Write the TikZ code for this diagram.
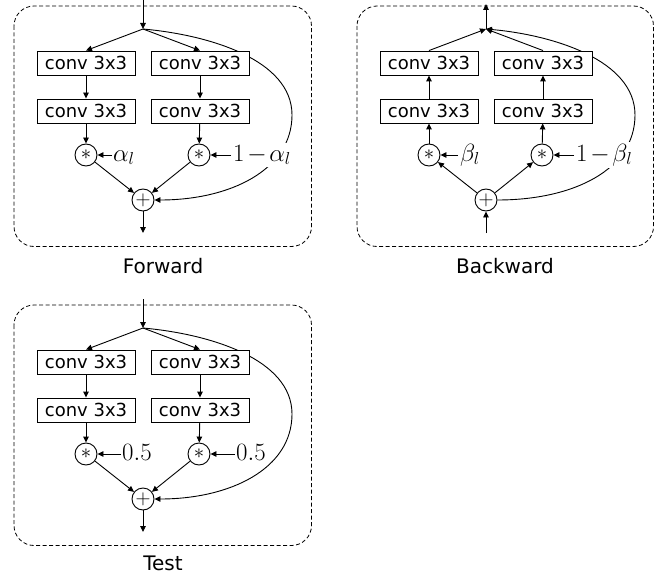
\documentclass[tikz,border=0pt]{standalone}
\usepackage{fontspec}
\setsansfont{DejaVu Sans}
\usetikzlibrary{arrows.meta,backgrounds}
\tikzset{
  convbox/.style={draw, fill=white, line width=0.9pt, minimum width=98pt, minimum height=24pt, inner sep=0pt, font=\sffamily\fontsize{18}{18}\selectfont},
  opc/.style={draw, circle, fill=white, line width=0.9pt, minimum size=22pt, inner sep=0pt, font=\fontsize{20}{20}\selectfont},
  arr/.style={line width=0.9pt, -{Triangle[length=6pt,width=5.5pt]}},
  panel/.style={draw, line width=0.8pt, dash pattern=on 4pt off 2.5pt, rounded corners=20pt},
  lab/.style={anchor=base west, inner sep=2pt, fill=white, font=\fontsize{24}{24}\selectfont},
  ttl/.style={anchor=base, inner sep=0pt, font=\sffamily\fontsize{20}{20}\selectfont}
}
\newcommand{\omn}{\mskip2mu{-}\mskip2mu}
\begin{document}
\begin{tikzpicture}[x=1pt,y=-1pt]
\useasboundingbox (0,0) rectangle (664,575);

% ================= Forward =================
\draw[panel] (14,6) rectangle (311.5,246.5);
\coordinate (fin) at (143,0);
\coordinate (fs) at (143,29);
\node[convbox] (f1) at (86,63) {conv 3x3};
\node[convbox] (f2) at (200,63) {conv 3x3};
\node[convbox] (f3) at (86,111) {conv 3x3};
\node[convbox] (f4) at (200,111) {conv 3x3};
\node[opc] (fm1) at (86,155) {$*$};
\node[opc] (fm2) at (199,155) {$*$};
\node[opc] (fp) at (143,200) {$+$};
\coordinate (fout) at (143,233);
\node[lab, inner sep=1pt] (fa1) at (112,161) {$\alpha_l$};
\node[lab] (fa2) at (231,161) {$1\omn\alpha_l$};
\begin{pgfonlayer}{background}
\draw[arr] (fs) .. controls (210,35) and (292,60) .. (292,115)
               .. controls (292,170) and (230,200) .. (fp.east);
\end{pgfonlayer}
\draw[arr] (fin) -- (fs);
\draw[arr] (fs) -- (f1.north);
\draw[arr] (fs) -- (f2.north);
\draw[arr] (f1) -- (f3);
\draw[arr] (f2) -- (f4);
\draw[arr] (f3) -- (fm1);
\draw[arr] (f4) -- (fm2);
\draw[arr] (fm1) -- (fp);
\draw[arr] (fm2) -- (fp);
\draw[arr] (fp) -- (fout);
\draw[arr] (fa1.west |- fm1) -- (fm1);
\draw[arr] (fa2.west |- fm2) -- (fm2);
\node[ttl] (ft) at (163,273) {Forward};

% ================= Backward =================
\draw[panel] (357,6) rectangle (653.5,246.5);
\coordinate (bout) at (486,4);
\coordinate (bs) at (486,29);
\node[convbox] (b1) at (429,63) {conv 3x3};
\node[convbox] (b2) at (543,63) {conv 3x3};
\node[convbox] (b3) at (429,111) {conv 3x3};
\node[convbox] (b4) at (543,111) {conv 3x3};
\node[opc] (bm1) at (429,155) {$*$};
\node[opc] (bm2) at (542,155) {$*$};
\node[opc] (bp) at (486,200) {$+$};
\coordinate (bin) at (486,233);
\node[lab] (bb1) at (458,161) {$\beta_l$};
\node[lab] (bb2) at (574,161) {$1\omn\beta_l$};
\begin{pgfonlayer}{background}
\draw[arr] (bp.east) .. controls (573,200) and (635,170) .. (635,115)
               .. controls (635,60) and (553,35) .. (bs);
\end{pgfonlayer}
\draw[arr] (bs) -- (bout);
\draw[arr] (b1.north) -- (bs);
\draw[arr] (b2.north) -- (bs);
\draw[arr] (b3) -- (b1);
\draw[arr] (b4) -- (b2);
\draw[arr] (bm1) -- (b3);
\draw[arr] (bm2) -- (b4);
\draw[arr] (bp) -- (bm1);
\draw[arr] (bp) -- (bm2);
\draw[arr] (bin) -- (bp);
\draw[arr] (bb1.west |- bm1) -- (bm1);
\draw[arr] (bb2.west |- bm2) -- (bm2);
\node[ttl] (bt) at (505,273) {Backward};

% ================= Test =================
\draw[panel] (14,305) rectangle (311.5,545.5);
\coordinate (tin) at (143,299);
\coordinate (ts) at (143,328);
\node[convbox] (t1) at (86,362) {conv 3x3};
\node[convbox] (t2) at (200,362) {conv 3x3};
\node[convbox] (t3) at (86,410) {conv 3x3};
\node[convbox] (t4) at (200,410) {conv 3x3};
\node[opc] (tm1) at (86,454) {$*$};
\node[opc] (tm2) at (199,454) {$*$};
\node[opc] (tp) at (143,499) {$+$};
\coordinate (tout) at (143,532);
\node[lab, inner sep=1pt] (tc1) at (121,460) {$0.5$};
\node[lab, inner sep=1pt] (tc2) at (235,460) {$0.5$};
\begin{pgfonlayer}{background}
\draw[arr] (ts) .. controls (210,334) and (292,359) .. (292,414)
               .. controls (292,469) and (230,499) .. (tp.east);
\end{pgfonlayer}
\draw[arr] (tin) -- (ts);
\draw[arr] (ts) -- (t1.north);
\draw[arr] (ts) -- (t2.north);
\draw[arr] (t1) -- (t3);
\draw[arr] (t2) -- (t4);
\draw[arr] (t3) -- (tm1);
\draw[arr] (t4) -- (tm2);
\draw[arr] (tm1) -- (tp);
\draw[arr] (tm2) -- (tp);
\draw[arr] (tp) -- (tout);
\draw[arr] (tc1.west |- tm1) -- (tm1);
\draw[arr] (tc2.west |- tm2) -- (tm2);
\node[ttl] (tt) at (163,570) {Test};
\end{tikzpicture}
\end{document}
